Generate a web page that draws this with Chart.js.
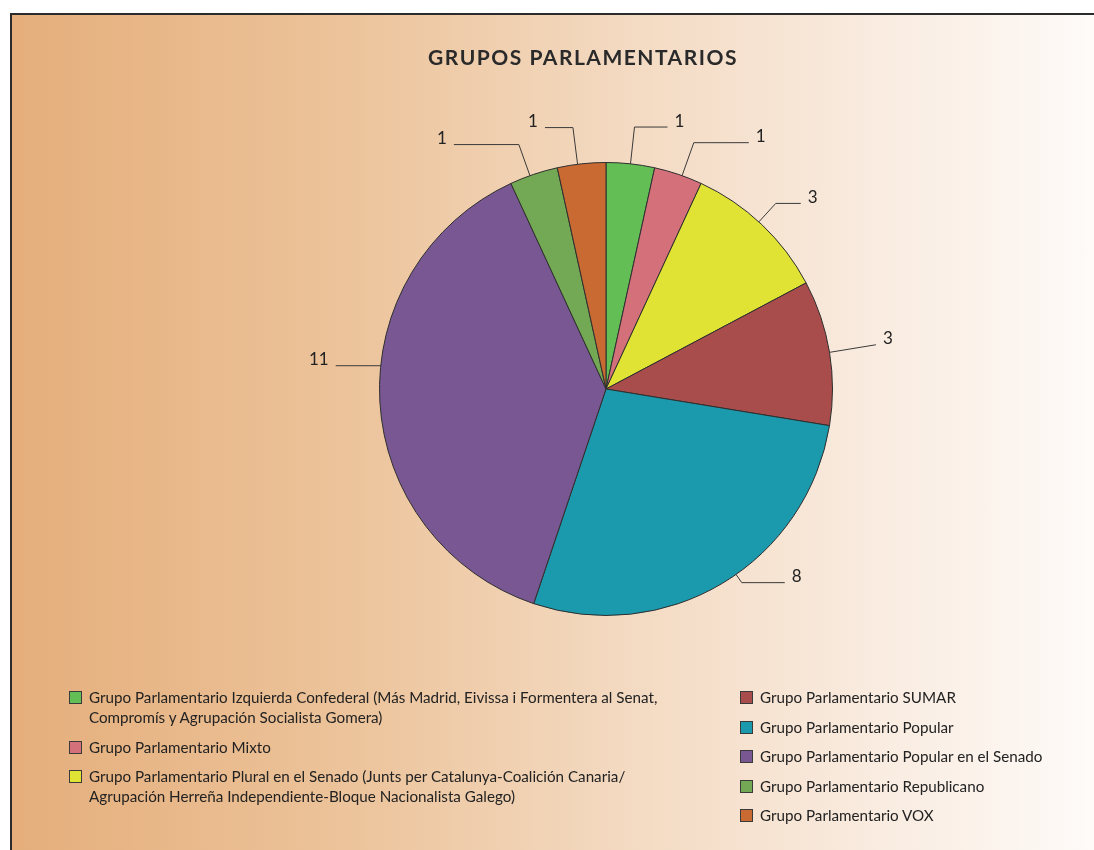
<!DOCTYPE html>
<html lang="es">
<head>
<meta charset="utf-8">
<title>Grupos Parlamentarios</title>
<script src="https://cdn.jsdelivr.net/npm/chart.js@4.4.0/dist/chart.umd.min.js"></script>
<style>
  html, body { margin: 0; padding: 0; background: #fff; overflow: hidden; }
  #marco {
    position: absolute; left: 10px; top: 13px; width: 1100px; height: 860px;
    border-top: 2px solid #2b2b2b; border-left: 2px solid #2b2b2b;
    background: linear-gradient(to right, #e5ae7b 0%, #ecc39a 30%, #f3d9c0 55%, #f9ebdf 78%, #fefcfa 100%);
  }
  #grafico { position: absolute; left: 0; top: 0; }
  .columna { position: absolute; top: 687px; font-family: Lato, sans-serif; font-size: 15.2px; color: #222; }
  .item { display: flex; align-items: flex-start; margin-bottom: 9.5px; line-height: 20px; }
  .cuadro { width: 11px; height: 11px; border: 1px solid #3a3a3a; margin: 4px 7px 0 0; flex: none; }
</style>
</head>
<body>
<div id="marco"></div>
<canvas id="grafico" width="1094" height="850"></canvas>
<div id="leyendaIzq" class="columna" style="left:69px"></div>
<div id="leyendaDer" class="columna" style="left:740px"></div>
<script>
// Datos del gráfico
const titulo = 'GRUPOS PARLAMENTARIOS';
const grupos = [
    ['Grupo Parlamentario Izquierda Confederal (Más Madrid, Eivissa i Formentera al Senat,', 'Compromís y Agrupación Socialista Gomera)'],
    'Grupo Parlamentario Mixto',
    ['Grupo Parlamentario Plural en el Senado (Junts per Catalunya-Coalición Canaria/', 'Agrupación Herreña Independiente-Bloque Nacionalista Galego)'],
    'Grupo Parlamentario SUMAR',
    'Grupo Parlamentario Popular',
    'Grupo Parlamentario Popular en el Senado',
    'Grupo Parlamentario Republicano',
    'Grupo Parlamentario VOX'
];
const senadores = [1, 1, 3, 3, 8, 11, 1, 1];
const colores = ['#63be55', '#d4707a', '#e0e333', '#a84d4b', '#1b99ad', '#785792', '#73a854', '#c96a33'];

// Guías de las etiquetas (desplazamiento de ángulo, tramo radial, tramo horizontal)
const guias = [
    { da: 0, ext: 37, h: 33 },
    { da: 1, ext: 35, h: 55 },
    { da: -1, ext: 25, h: 25 },
    { da: 0, ext: 47, h: 0 },
    { da: -4, ext: 10, h: 43 },
    { da: 9, ext: 0, h: 45 },
    { da: -1, ext: 33, h: 65 },
    { da: -1, ext: 37, h: 28 }
];

const tituloPlugin = {
    id: 'tituloFijo',
    afterDraw(chart) {
        const ctx = chart.ctx;
        ctx.save();
        ctx.fillStyle = '#2a2a2a';
        ctx.font = 'bold 21px Lato';
        ctx.letterSpacing = '1.5px';
        ctx.textAlign = 'center';
        ctx.textBaseline = 'middle';
        ctx.fillText(titulo, 583, 58);
        ctx.restore();
    }
};

const etiquetasPlugin = {
    id: 'etiquetas',
    afterDatasetsDraw(chart) {
        const ctx = chart.ctx;
        const meta = chart.getDatasetMeta(0);
        ctx.save();
        ctx.strokeStyle = '#3a3a3a';
        ctx.lineWidth = 1;
        ctx.fillStyle = '#222';
        ctx.font = '17px Lato';
        ctx.textBaseline = 'middle';
        meta.data.forEach((arc, i) => {
            const p = arc.getProps(['x', 'y', 'startAngle', 'endAngle', 'outerRadius'], true);
            const g = guias[i];
            const a = (p.startAngle + p.endAngle) / 2 + g.da * Math.PI / 180;
            const x0 = p.x + Math.cos(a) * p.outerRadius;
            const y0 = p.y + Math.sin(a) * p.outerRadius;
            const x1 = p.x + Math.cos(a) * (p.outerRadius + g.ext);
            const y1 = p.y + Math.sin(a) * (p.outerRadius + g.ext);
            const dir = Math.cos(a) >= 0 ? 1 : -1;
            const x2 = x1 + dir * g.h;
            ctx.beginPath();
            ctx.moveTo(x0, y0);
            ctx.lineTo(x1, y1);
            ctx.lineTo(x2, y1);
            ctx.stroke();
            ctx.textAlign = dir > 0 ? 'left' : 'right';
            ctx.fillText(String(senadores[i]), x2 + dir * 7, y1 - 6);
        });
        ctx.restore();
    }
};

new Chart(document.getElementById('grafico'), {
    type: 'pie',
    data: {
        labels: grupos,
        datasets: [{
            data: senadores,
            backgroundColor: colores,
            borderColor: '#2e2e2e',
            borderWidth: 1
        }]
    },
    options: {
        responsive: false,
        animation: false,
        layout: { padding: { top: 162, bottom: 234, left: 379, right: 261 } },
        plugins: {
            legend: { display: false },
            tooltip: { enabled: true }
        }
    },
    plugins: [etiquetasPlugin, tituloPlugin]
});

// Leyenda en HTML, dos columnas
function itemLeyenda(i) {
    const texto = Array.isArray(grupos[i]) ? grupos[i].join('<br>') : grupos[i];
    return '<div class="item"><span class="cuadro" style="background:' + colores[i] + '"></span><span>' + texto + '</span></div>';
}
document.getElementById('leyendaIzq').innerHTML = [0, 1, 2].map(itemLeyenda).join('');
document.getElementById('leyendaDer').innerHTML = [3, 4, 5, 6, 7].map(itemLeyenda).join('');
</script>
</body>
</html>
